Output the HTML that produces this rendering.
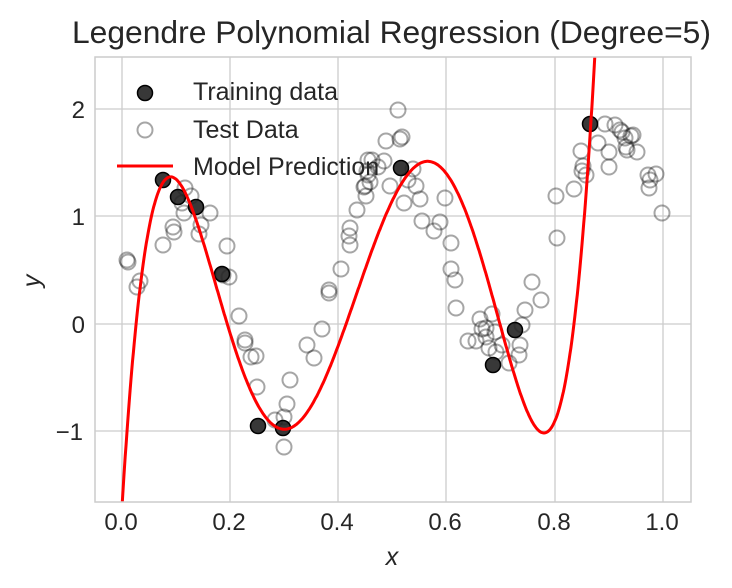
<!DOCTYPE html>
<html><head><meta charset="utf-8"><style>
html,body{margin:0;padding:0;background:#fff;width:732px;height:588px;overflow:hidden}
text{font-family:"Liberation Sans",sans-serif;fill:#262626}
</style></head><body>
<svg id="s" width="732" height="588" xmlns="http://www.w3.org/2000/svg">
<defs><clipPath id="c"><rect x="95" y="57" width="596" height="445"/></clipPath></defs>
<rect x="95" y="57" width="596" height="445" fill="#fff"/>
<g stroke="#cccccc" stroke-width="1.3">
<line x1="122" y1="57" x2="122" y2="502"/><line x1="230" y1="57" x2="230" y2="502"/>
<line x1="338" y1="57" x2="338" y2="502"/><line x1="446" y1="57" x2="446" y2="502"/>
<line x1="555" y1="57" x2="555" y2="502"/><line x1="663" y1="57" x2="663" y2="502"/>
<line x1="95" y1="109" x2="691" y2="109"/><line x1="95" y1="216" x2="691" y2="216"/>
<line x1="95" y1="324" x2="691" y2="324"/><line x1="95" y1="431" x2="691" y2="431"/>
</g>
<g id="pts" clip-path="url(#c)"></g>
<path id="curve" clip-path="url(#c)" fill="none" stroke="#ff0000" stroke-width="3"/>
<rect x="95" y="57" width="596" height="445" fill="none" stroke="#cccccc" stroke-width="1.5"/>
<g font-size="24" text-anchor="middle">
<text x="121" y="530">0.0</text><text x="229" y="530">0.2</text><text x="337" y="530">0.4</text>
<text x="445" y="530">0.6</text><text x="554" y="530">0.8</text><text x="662" y="530">1.0</text>
</g>
<g font-size="24" text-anchor="end">
<text x="85" y="118">2</text><text x="85" y="225">1</text><text x="85" y="333">0</text><text x="83" y="440">−1</text>
</g>
<text x="392" y="565" font-size="25" font-style="italic" text-anchor="middle">x</text>
<text x="40" y="281" font-size="25" font-style="italic" text-anchor="middle" transform="rotate(-90 40 281)">y</text>
<text x="72" y="43" font-size="31.8">Legendre Polynomial Regression (Degree=5)</text>
<circle cx="145" cy="93" r="7.5" fill="#222" fill-opacity="0.9" stroke="#000" stroke-width="1.5"/>
<circle cx="145" cy="130" r="7.5" fill="none" stroke="#000" stroke-opacity="0.35" stroke-width="2"/>
<line x1="117" y1="166" x2="173" y2="166" stroke="#ff0000" stroke-width="3"/>
<g font-size="25"><text x="193" y="100">Training data</text><text x="193" y="138">Test Data</text><text x="193" y="175">Model Prediction</text></g>
</svg>
<script>
var NS="http://www.w3.org/2000/svg",g=document.getElementById("pts");
var test=[[127,260],[128,262],[137,287],[140,281],[163,245],[173,227],[174,232],[182,203],[185,188],[184,213],[191,196],[199,234],[201,225],[210,213],[223,275],[227,246],[229,277],[239,316],[245,343],[245,340],[251,357],[257,387],[256,356],[275,420],[284,417],[284,447],[290,380],[287,404],[307,345],[314,358],[322,329],[329,293],[329,290],[341,269],[349,236],[350,245],[350,228],[357,210],[364,187],[366,196],[367,171],[365,186],[368,160],[368,175],[370,182],[372,160],[378,167],[384,161],[390,186],[386,141],[398,110],[400,139],[402,137],[404,203],[408,180],[413,169],[416,186],[422,221],[420,199],[434,231],[440,222],[445,198],[451,243],[451,269],[456,308],[455,280],[468,341],[476,341],[480,319],[482,329],[486,337],[486,328],[489,348],[492,314],[495,332],[502,345],[496,352],[509,363],[520,345],[519,355],[525,310],[522,325],[532,282],[541,300],[556,196],[557,238],[574,189],[582,171],[586,175],[581,151],[583,166],[598,143],[605,124],[609,152],[609,167],[615,125],[620,130],[622,132],[625,138],[626,147],[631,136],[633,135],[637,152],[648,175],[650,180],[656,174],[649,188],[662,213],[627,150]];
test.forEach(function(p){var c=document.createElementNS(NS,"circle");c.setAttribute("cx",p[0]);c.setAttribute("cy",p[1]);c.setAttribute("r",7.5);c.setAttribute("fill","none");c.setAttribute("stroke","#000");c.setAttribute("stroke-opacity","0.35");c.setAttribute("stroke-width","2");g.appendChild(c);});
var tr=[[163,180],[178,197],[196,207],[222,274],[258,426],[283,428],[401,168],[493,365],[515,330],[590,124]];
tr.forEach(function(p){var c=document.createElementNS(NS,"circle");c.setAttribute("cx",p[0]);c.setAttribute("cy",p[1]);c.setAttribute("r",7.5);c.setAttribute("fill","#222");c.setAttribute("fill-opacity","0.9");c.setAttribute("stroke","#000");c.setAttribute("stroke-width","1.5");g.appendChild(c);});
var r=[0.09,0.30,0.565,0.78];
function dp(x){return (x-r[0])*(x-r[1])*(x-r[2])*(x-r[3]);}
function integ(a,b){var n=400,h=(b-a)/n,s=0;for(var i=0;i<n;i++){var x=a+(i+0.5)*h;s+=dp(x)*h;}return s;}
var k=-2.35/integ(0.09,0.30);
function p(x){return 1.37+k*integ(0.09,x);}
var d="";for(var i=0;i<=600;i++){var x=i/600*0.9;var y=p(x);var px=122+x*541,py=324-y*107.4;if(py<-200)py=-200;if(py>800)py=800;d+=(i?"L":"M")+px.toFixed(1)+","+py.toFixed(1);}
document.getElementById("curve").setAttribute("d",d);
</script>
</body></html>
